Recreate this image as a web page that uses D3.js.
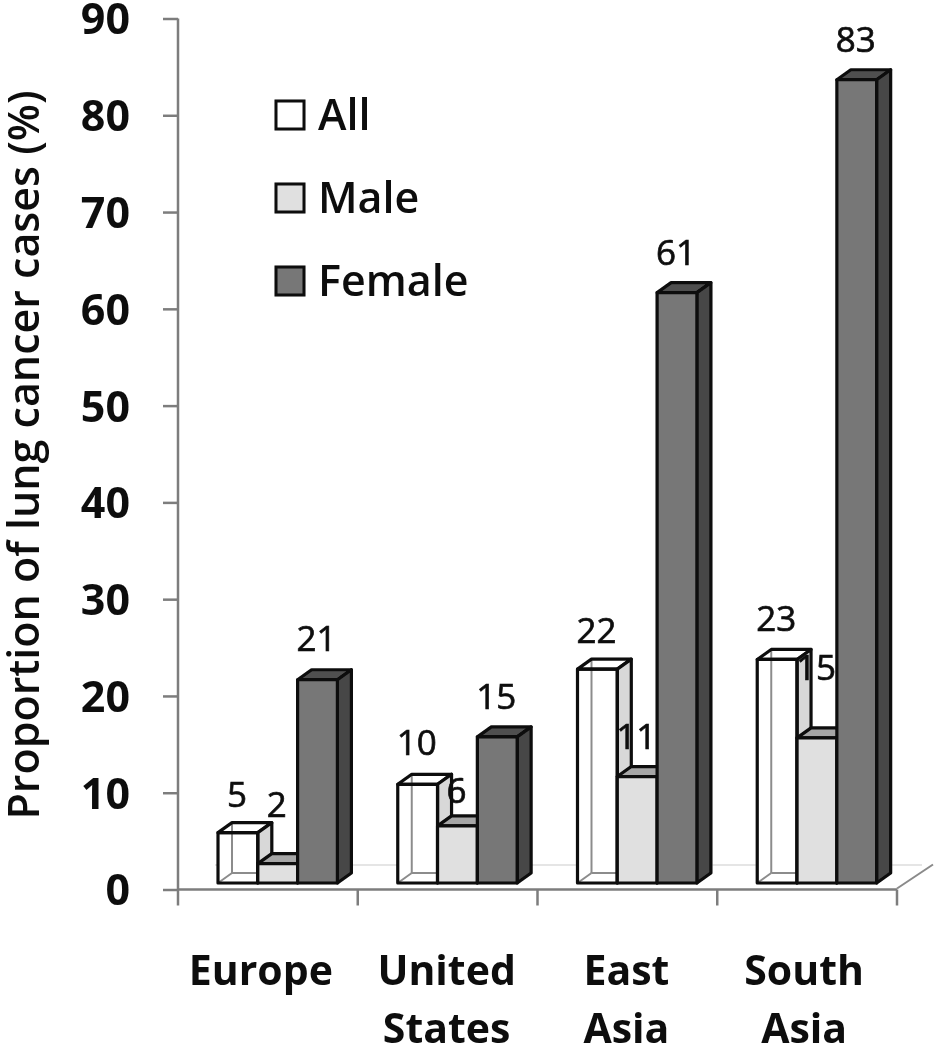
<!DOCTYPE html>
<html><head><meta charset="utf-8">
<script src="https://cdnjs.cloudflare.com/ajax/libs/d3/7.8.5/d3.min.js"></script>
<style>html,body{margin:0;padding:0;background:#fff}svg{display:block}text{font-family:"Open Sans",Lato,sans-serif;fill:#111}</style>
</head><body><svg id="c" width="934" height="1050"></svg>
<script>
const categories = [["Europe"],["United","States"],["East","Asia"],["South","Asia"]];
const seriesNames = ["All","Male","Female"];
const allValues = [5.2,10.2,22.1,23.1];
const maleValues = [2,5.9,11,15];
const femaleValues = [21,15.1,61,83];
const labelsAll = [5,10,22,23];
const labelsMale = [2,6,11,15];
const labelsFemale = [21,15,61,83];
const yTicks = [0,10,20,30,40,50,60,70,80,90];

const W=934,H=1050, x0=178,x1=897, yBase=889.5,yTop=18.5, dx=14,dy=10, frontDrop=6.5;
const colors={All:{front:"#fff",top:"#f0f0f0",side:"#d8d8d8"},Male:{front:"#e0e0e0",top:"#a6a6a6",side:"#c8c8c8"},Female:{front:"#777",top:"#505050",side:"#474747"}};
const svg=d3.select("#c");
const defs=svg.append("defs");
defs.append("filter").attr("id","soft").append("feGaussianBlur").attr("stdDeviation",0.6);
const g=svg.append("g").attr("filter","url(#soft)");
const keys=categories.map(c=>c.join(" "));
const x=d3.scaleBand().domain(keys).range([x0,x1]);
const y=d3.scaleLinear().domain([0,90]).range([yBase,yTop]);
const barW=39.8, inset=40;
const xs=d3.scaleBand().domain(seriesNames).range([inset,inset+3*barW]);
const table={All:allValues,Male:maleValues,Female:femaleValues};
const labelTable={All:labelsAll,Male:labelsMale,Female:labelsFemale};
const lift={All:[26,29,26,28],Male:[47,23,28,58],Female:[29,28,28,28]};

// floor
g.append("line").attr("x1",215).attr("x2",922).attr("y1",865).attr("y2",865).attr("stroke","#dcdcdc").attr("stroke-width",1.5);
g.append("line").attr("x1",x1).attr("y1",yBase-1).attr("x2",x1+36).attr("y2",yBase-25).attr("stroke","#8a8a8a").attr("stroke-width",2);

// axes
const gy=g.append("g").attr("transform",`translate(${x0},0)`).call(d3.axisLeft(y).tickValues(yTicks).tickSize(15).tickPadding(33));
gy.selectAll("text").style("font-size","43px").style("font-weight",700).attr("dy","0.36em");
const ticksX=d3.range(keys.length+1).map(i=>i<keys.length?x(keys[i]):x1);
const gx=g.append("g");
gx.append("line").attr("x1",x0).attr("x2",x1).attr("y1",yBase).attr("y2",yBase);
gx.selectAll("line.t").data(ticksX).join("line").attr("class","t").attr("x1",d=>d).attr("x2",d=>d).attr("y1",yBase).attr("y2",yBase+16);
gx.selectAll("line").attr("stroke","#7d7d7d").attr("stroke-width",2.5);
gy.selectAll("line,path").attr("stroke","#7d7d7d").attr("stroke-width",2.5);
gy.select("path.domain").attr("d",`M0,${yBase}V${yTop}`);

// bars
const base=yBase-frontDrop;
const pts=a=>a.map(p=>p.join(",")).join(" ");
keys.forEach((k,i)=>{
  seriesNames.forEach(s=>{
    const v=table[s][i], l=x(k)+xs(s), w=barW, r=l+w, t=y(v)-frontDrop, c=colors[s];
    const b=g.append("g").attr("stroke","#0c0c0c").attr("stroke-width",3.2).attr("stroke-linejoin","round");
    if(s==="All"){
      b.append("rect").attr("x",l).attr("y",t).attr("width",w).attr("height",base-t).attr("fill","#fff").attr("stroke","none");
      const gi=b.append("g").attr("stroke","#8c8c8c").attr("stroke-width",2).attr("fill","none");
      gi.append("line").attr("x1",l+dx).attr("x2",l+dx).attr("y1",t-dy).attr("y2",base-dy);
      gi.append("line").attr("x1",l+dx).attr("x2",r).attr("y1",base-dy).attr("y2",base-dy);
      gi.append("line").attr("x1",l).attr("x2",l+dx).attr("y1",base).attr("y2",base-dy);
    }
    b.append("polygon").attr("points",pts([[l,t],[l+dx,t-dy],[r+dx,t-dy],[r,t]])).attr("fill",s==="All"?"none":c.top);
    b.append("polygon").attr("points",pts([[r,t],[r+dx,t-dy],[r+dx,base-dy],[r,base]])).attr("fill",c.side);
    b.append("rect").attr("x",l).attr("y",t).attr("width",w).attr("height",base-t).attr("fill",s==="All"?"none":c.front);
  });
});

// value labels
keys.forEach((k,i)=>{
  seriesNames.forEach(s=>{
    const v=table[s][i], l=x(k)+xs(s);
    g.append("text").attr("x",l+barW/2-1).attr("y",y(v)-frontDrop-lift[s][i]).attr("text-anchor","middle").style("font-size","35px").style("stroke","#111").style("stroke-width",0.7).text(labelTable[s][i]);
  });
});

// category labels
const catShift=[-7,-1,-1,-3];
categories.forEach((c,i)=>{
  const k=keys[i];
  c.forEach((t,j)=>{
    g.append("text").attr("x",x(k)+x.bandwidth()/2+catShift[i]).attr("y",985+j*58).attr("text-anchor","middle").style("font-size","41px").style("font-weight",700).text(t);
  });
});

// y title
g.append("text").attr("transform","translate(39,455) rotate(-90)").attr("text-anchor","middle").style("font-size","43px").style("font-weight",600).text("Proportion of lung cancer cases (%)");

// legend
const legY=d3.scalePoint().domain(seriesNames).range([100,266]);
seriesNames.forEach(s=>{
  const ly=legY(s);
  g.append("rect").attr("x",276).attr("y",ly+1).attr("width",28).attr("height",28).attr("fill",colors[s].front).attr("stroke","#0c0c0c").attr("stroke-width",3);
  g.append("text").attr("x",318).attr("y",ly+30).style("font-size","43px").style("font-weight",600).text(s);
});
</script></body></html>
